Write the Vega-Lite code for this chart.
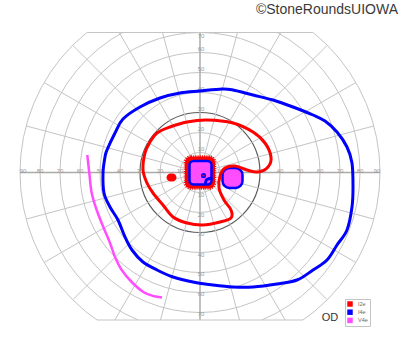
{
  "$schema": "https://vega.github.io/schema/vega-lite/v6.json",
  "width": 400,
  "height": 352,
  "padding": 0,
  "autosize": {"type": "none"},
  "background": "white",
  "config": {"view": {"stroke": null}, "axis": {"disable": true}},
  "datasets": {
    "rings": [{"r": 10}, {"r": 20}, {"r": 40}, {"r": 50}, {"r": 60}, {"r": 70}, {"r": 80}, {"r": 90}],
    "ring30": [{"r": 30}],
    "meridians": [
      {"x": 86.93, "y": 23.29, "x2": -86.93, "y2": -23.29},
      {"x": 77.94, "y": 45, "x2": -77.94, "y2": -45},
      {"x": 63.64, "y": 63.64, "x2": -63.64, "y2": -63.64},
      {"x": 45, "y": 77.94, "x2": -45, "y2": -77.94},
      {"x": 23.29, "y": 86.93, "x2": -23.29, "y2": -86.93},
      {"x": -23.29, "y": 86.93, "x2": 23.29, "y2": -86.93},
      {"x": -45, "y": 77.94, "x2": 45, "y2": -77.94},
      {"x": -63.64, "y": 63.64, "x2": 63.64, "y2": -63.64},
      {"x": -77.94, "y": 45, "x2": 77.94, "y2": -45},
      {"x": -86.93, "y": 23.29, "x2": 86.93, "y2": -23.29}
    ],
    "axes": [
      {"x": -90, "y": 0, "x2": 90, "y2": 0},
      {"x": 0, "y": -90, "x2": 0, "y2": 90}
    ],
    "covers": [
      {"x": -110, "x2": 110, "y": 70, "y2": 95},
      {"x": -110, "x2": 110, "y": -73.75, "y2": -95}
    ],
    "cuts": [
      {"x": -56.57, "x2": 56.57, "y": 70},
      {"x": -51.58, "x2": 51.58, "y": -73.75}
    ],
    "labels": [
      {"x": -88.5, "y": 0.8, "t": "90"}, {"x": -80, "y": 0.8, "t": "80"}, {"x": -70, "y": 0.8, "t": "70"},
      {"x": -60, "y": 0.8, "t": "60"}, {"x": -50, "y": 0.8, "t": "50"}, {"x": -40, "y": 0.8, "t": "40"},
      {"x": -30, "y": 0.8, "t": "30"}, {"x": -20, "y": 0.8, "t": "20"}, {"x": -10, "y": 0.8, "t": "10"},
      {"x": 88.5, "y": 0.8, "t": "90"}, {"x": 80, "y": 0.8, "t": "80"}, {"x": 70, "y": 0.8, "t": "70"},
      {"x": 60, "y": 0.8, "t": "60"}, {"x": 50, "y": 0.8, "t": "50"}, {"x": 40, "y": 0.8, "t": "40"},
      {"x": 30, "y": 0.8, "t": "30"}, {"x": 20, "y": 0.8, "t": "20"}, {"x": 10, "y": 0.8, "t": "10"},
      {"x": 0.5, "y": 11.75, "t": "10"}, {"x": 0.5, "y": 21.75, "t": "20"}, {"x": 0.5, "y": 32, "t": "30"},
      {"x": 0.5, "y": 41.75, "t": "40"}, {"x": 0.5, "y": 51.6, "t": "50"}, {"x": 0.5, "y": 61.6, "t": "60"},
      {"x": 0.5, "y": 68.5, "t": "70"},
      {"x": 0.5, "y": -11.25, "t": "10"}, {"x": 0.5, "y": -21.25, "t": "20"}, {"x": 0.5, "y": -30.75, "t": "30"},
      {"x": 0.5, "y": -41.25, "t": "40"}, {"x": 0.5, "y": -50.75, "t": "50"}, {"x": 0.5, "y": -60.75, "t": "60"},
      {"x": 0.5, "y": -70.75, "t": "70"}
    ],
    "iso": [
      {"iso": "I4e", "i": 1, "x": -38.5, "y": 26.75},
      {"iso": "I4e", "i": 2, "x": -30, "y": 32.75},
      {"iso": "I4e", "i": 3, "x": -20, "y": 37.25},
      {"iso": "I4e", "i": 4, "x": -10, "y": 39.75},
      {"iso": "I4e", "i": 5, "x": 0, "y": 40.75},
      {"iso": "I4e", "i": 6, "x": 11, "y": 41.75},
      {"iso": "I4e", "i": 7, "x": 16.5, "y": 41.25},
      {"iso": "I4e", "i": 8, "x": 26.5, "y": 38.75},
      {"iso": "I4e", "i": 9, "x": 36.5, "y": 36.25},
      {"iso": "I4e", "i": 10, "x": 46.5, "y": 32.75},
      {"iso": "I4e", "i": 11, "x": 56.5, "y": 28.75},
      {"iso": "I4e", "i": 12, "x": 62.5, "y": 25.75},
      {"iso": "I4e", "i": 13, "x": 68.5, "y": 20.25},
      {"iso": "I4e", "i": 14, "x": 73.5, "y": 12.75},
      {"iso": "I4e", "i": 15, "x": 76, "y": 4.75},
      {"iso": "I4e", "i": 16, "x": 76.5, "y": -7.25},
      {"iso": "I4e", "i": 17, "x": 76, "y": -17.25},
      {"iso": "I4e", "i": 18, "x": 73.5, "y": -28.75},
      {"iso": "I4e", "i": 19, "x": 68.5, "y": -36.25},
      {"iso": "I4e", "i": 20, "x": 63.5, "y": -43.75},
      {"iso": "I4e", "i": 21, "x": 56.5, "y": -48.75},
      {"iso": "I4e", "i": 22, "x": 48.5, "y": -53.75},
      {"iso": "I4e", "i": 23, "x": 38.5, "y": -55.75},
      {"iso": "I4e", "i": 24, "x": 26.5, "y": -57.25},
      {"iso": "I4e", "i": 25, "x": 16.5, "y": -57.25},
      {"iso": "I4e", "i": 26, "x": 6.5, "y": -56.25},
      {"iso": "I4e", "i": 27, "x": -3.5, "y": -54.75},
      {"iso": "I4e", "i": 28, "x": -13.5, "y": -52.25},
      {"iso": "I4e", "i": 29, "x": -21.5, "y": -48.75},
      {"iso": "I4e", "i": 30, "x": -28.5, "y": -44.75},
      {"iso": "I4e", "i": 31, "x": -34, "y": -38.75},
      {"iso": "I4e", "i": 32, "x": -37.5, "y": -32.25},
      {"iso": "I4e", "i": 33, "x": -41, "y": -23.75},
      {"iso": "I4e", "i": 34, "x": -45, "y": -17.25},
      {"iso": "I4e", "i": 35, "x": -48, "y": -10.25},
      {"iso": "I4e", "i": 36, "x": -48.5, "y": -0.25},
      {"iso": "I4e", "i": 37, "x": -47.5, "y": 7.75},
      {"iso": "I4e", "i": 38, "x": -46.5, "y": 11.25},
      {"iso": "I4e", "i": 39, "x": -42.5, "y": 19.75},
      {"iso": "I2e", "i": 1, "x": -27.5, "y": 9.75},
      {"iso": "I2e", "i": 2, "x": -25, "y": 15.25},
      {"iso": "I2e", "i": 3, "x": -21.5, "y": 19.75},
      {"iso": "I2e", "i": 4, "x": -15, "y": 22.75},
      {"iso": "I2e", "i": 5, "x": -6.5, "y": 25.25},
      {"iso": "I2e", "i": 6, "x": 3.5, "y": 26.25},
      {"iso": "I2e", "i": 7, "x": 16.5, "y": 24.75},
      {"iso": "I2e", "i": 8, "x": 26.5, "y": 20.25},
      {"iso": "I2e", "i": 9, "x": 32.5, "y": 14.75},
      {"iso": "I2e", "i": 10, "x": 35.5, "y": 7.75},
      {"iso": "I2e", "i": 11, "x": 34, "y": 2.75},
      {"iso": "I2e", "i": 12, "x": 29, "y": 0.25},
      {"iso": "I2e", "i": 13, "x": 23.5, "y": 1.25},
      {"iso": "I2e", "i": 14, "x": 17.5, "y": 3.25},
      {"iso": "I2e", "i": 15, "x": 12.5, "y": 2.25},
      {"iso": "I2e", "i": 16, "x": 10, "y": -1.75},
      {"iso": "I2e", "i": 17, "x": 9.5, "y": -7.75},
      {"iso": "I2e", "i": 18, "x": 12, "y": -13.75},
      {"iso": "I2e", "i": 19, "x": 15.5, "y": -18.75},
      {"iso": "I2e", "i": 20, "x": 15.5, "y": -22.75},
      {"iso": "I2e", "i": 21, "x": 10, "y": -24.75},
      {"iso": "I2e", "i": 22, "x": 1.5, "y": -26.25},
      {"iso": "I2e", "i": 23, "x": -6.5, "y": -25.25},
      {"iso": "I2e", "i": 24, "x": -13.5, "y": -22.25},
      {"iso": "I2e", "i": 25, "x": -18.5, "y": -16.25},
      {"iso": "I2e", "i": 26, "x": -23.5, "y": -10.25},
      {"iso": "I2e", "i": 27, "x": -26.5, "y": -5.25},
      {"iso": "I2e", "i": 28, "x": -28.5, "y": 1.25},
      {"iso": "V4e", "i": 1, "x": -56.35, "y": 8.75},
      {"iso": "V4e", "i": 2, "x": -55.35, "y": -0.25},
      {"iso": "V4e", "i": 3, "x": -54.15, "y": -10.25},
      {"iso": "V4e", "i": 4, "x": -51.65, "y": -18.75},
      {"iso": "V4e", "i": 5, "x": -48.35, "y": -27.25},
      {"iso": "V4e", "i": 6, "x": -45, "y": -35.25},
      {"iso": "V4e", "i": 7, "x": -42.5, "y": -42.25},
      {"iso": "V4e", "i": 8, "x": -39.15, "y": -48.75},
      {"iso": "V4e", "i": 9, "x": -34.15, "y": -54.75},
      {"iso": "V4e", "i": 10, "x": -28.35, "y": -59.75},
      {"iso": "V4e", "i": 11, "x": -23.35, "y": -61.75},
      {"iso": "V4e", "i": 12, "x": -19, "y": -62.5}
    ]
  },
  "layer": [
    {
      "data": {"name": "rings"},
      "mark": {"type": "arc", "theta": 0, "theta2": 6.2832, "filled": false, "stroke": "#c4c4c4", "strokeWidth": 1},
      "encoding": {
        "x": {"datum": 0, "type": "quantitative", "scale": {"domain": [-100, 100], "nice": false, "zero": false}},
        "y": {"datum": 0, "type": "quantitative", "scale": {"domain": [-89.75, 86.25], "nice": false, "zero": false}},
        "radius": {"field": "r", "type": "quantitative", "stack": null, "scale": {"type": "linear", "domain": [0, 100], "range": [0, 200], "zero": true, "nice": false}}
      }
    },
    {
      "data": {"name": "ring30"},
      "mark": {"type": "arc", "theta": 0, "theta2": 6.2832, "filled": false, "stroke": "#5a5a5a", "strokeWidth": 1.2},
      "encoding": {
        "x": {"datum": 0, "type": "quantitative"},
        "y": {"datum": 0, "type": "quantitative"},
        "radius": {"field": "r", "type": "quantitative", "stack": null}
      }
    },
    {
      "data": {"name": "meridians"},
      "mark": {"type": "rule", "stroke": "#c4c4c4", "strokeWidth": 1, "clip": true},
      "encoding": {
        "x": {"field": "x", "type": "quantitative"},
        "y": {"field": "y", "type": "quantitative"},
        "x2": {"field": "x2"},
        "y2": {"field": "y2"}
      }
    },
    {
      "data": {"name": "axes"},
      "mark": {"type": "rule", "stroke": "#ababab", "strokeWidth": 1.5, "clip": true},
      "encoding": {
        "x": {"field": "x", "type": "quantitative"},
        "y": {"field": "y", "type": "quantitative"},
        "x2": {"field": "x2"},
        "y2": {"field": "y2"}
      }
    },
    {
      "data": {"name": "covers"},
      "mark": {"type": "rect", "fill": "white", "clip": true},
      "encoding": {
        "x": {"field": "x", "type": "quantitative"},
        "x2": {"field": "x2"},
        "y": {"field": "y", "type": "quantitative"},
        "y2": {"field": "y2"}
      }
    },
    {
      "data": {"name": "cuts"},
      "mark": {"type": "rule", "stroke": "#c4c4c4", "strokeWidth": 1},
      "encoding": {
        "x": {"field": "x", "type": "quantitative"},
        "x2": {"field": "x2"},
        "y": {"field": "y", "type": "quantitative"}
      }
    },
    {
      "data": {"name": "labels"},
      "mark": {"type": "text", "fontSize": 6, "font": "Liberation Sans", "color": "#9a9a9a", "align": "center", "baseline": "middle"},
      "encoding": {
        "x": {"field": "x", "type": "quantitative"},
        "y": {"field": "y", "type": "quantitative"},
        "text": {"field": "t"}
      }
    },
    {
      "data": {"values": [{"x": -16.75, "x2": -11.75, "y": -0.5, "y2": -4.5}]},
      "mark": {"type": "rect", "fill": "#ff0000", "cornerRadius": 4},
      "encoding": {
        "x": {"field": "x", "type": "quantitative"},
        "x2": {"field": "x2"},
        "y": {"field": "y", "type": "quantitative"},
        "y2": {"field": "y2"}
      }
    },
    {
      "data": {"values": [{"x": -7.5, "x2": 7.5, "y": 8, "y2": -8}]},
      "mark": {"type": "rect", "fill": "#ff0000", "stroke": "#ff0000", "strokeWidth": 2.5, "strokeDash": [1, 1.2], "cornerRadius": 6},
      "encoding": {
        "x": {"field": "x", "type": "quantitative"},
        "x2": {"field": "x2"},
        "y": {"field": "y", "type": "quantitative"},
        "y2": {"field": "y2"}
      }
    },
    {
      "data": {"values": [{"x": -5.25, "x2": 5.75, "y": 5.75, "y2": -6}]},
      "mark": {"type": "rect", "fill": "#ff4dff", "stroke": "#0000ff", "strokeWidth": 2.5, "cornerRadius": 4},
      "encoding": {
        "x": {"field": "x", "type": "quantitative"},
        "x2": {"field": "x2"},
        "y": {"field": "y", "type": "quantitative"},
        "y2": {"field": "y2"}
      }
    },
    {
      "data": {"values": [{"i": 1, "x": 6, "y": -2.75}, {"i": 2, "x": 3.2, "y": -3.6}, {"i": 3, "x": 2.6, "y": -6.2}]},
      "mark": {"type": "line", "stroke": "#0000ff", "strokeWidth": 3, "interpolate": "monotone"},
      "encoding": {
        "x": {"field": "x", "type": "quantitative"},
        "y": {"field": "y", "type": "quantitative"},
        "order": {"field": "i", "type": "quantitative"}
      }
    },
    {
      "data": {"values": [{"x": 1.75, "y": -1.5}]},
      "mark": {"type": "point", "shape": "circle", "filled": true, "fill": "#ff0000", "stroke": "#0000ff", "strokeWidth": 1.5, "size": 14, "opacity": 1},
      "encoding": {
        "x": {"field": "x", "type": "quantitative"},
        "y": {"field": "y", "type": "quantitative"}
      }
    },
    {
      "data": {"values": [{"x": 11.25, "x2": 21.25, "y": 2.25, "y2": -7.75}]},
      "mark": {"type": "rect", "fill": "#ff4dff", "stroke": "#0000ff", "strokeWidth": 2.5, "cornerRadius": 7},
      "encoding": {
        "x": {"field": "x", "type": "quantitative"},
        "x2": {"field": "x2"},
        "y": {"field": "y", "type": "quantitative"},
        "y2": {"field": "y2"}
      }
    },
    {
      "data": {"name": "iso"},
      "transform": [{"filter": "datum.iso !== 'V4e'"}],
      "mark": {"type": "line", "strokeWidth": 3, "interpolate": "cardinal-closed"},
      "encoding": {
        "x": {"field": "x", "type": "quantitative"},
        "y": {"field": "y", "type": "quantitative"},
        "order": {"field": "i", "type": "quantitative"},
        "color": {
          "field": "iso",
          "type": "nominal",
          "scale": {"domain": ["I2e", "I4e", "V4e"], "range": ["#ff0000", "#0000ff", "#ff4dff"]},
          "legend": {
            "title": null,
            "orient": "none",
            "legendX": 345,
            "legendY": 299,
            "symbolType": "square",
            "symbolSize": 30,
            "symbolStrokeWidth": 0,
            "labelFontSize": 5.5,
            "labelFont": "Liberation Sans",
            "labelColor": "#666",
            "labelOffset": 5,
            "rowPadding": 1.2,
            "padding": 2,
            "strokeColor": "#c4c4c4",
            "fillColor": "white",
            "encode": {"symbols": {"update": {"fill": {"scale": "color", "field": "value"}, "opacity": {"value": 1}}}}
          }
        }
      }
    },
    {
      "data": {"name": "iso"},
      "transform": [{"filter": "datum.iso === 'V4e'"}],
      "mark": {"type": "line", "strokeWidth": 2.5, "interpolate": "cardinal"},
      "encoding": {
        "x": {"field": "x", "type": "quantitative"},
        "y": {"field": "y", "type": "quantitative"},
        "order": {"field": "i", "type": "quantitative"},
        "color": {"field": "iso", "type": "nominal"}
      }
    },
    {
      "data": {"values": [{"x": 60.85, "y": -74.1, "t": "OD"}]},
      "mark": {"type": "text", "fontSize": 11, "font": "Liberation Sans", "color": "#333", "align": "left", "baseline": "alphabetic"},
      "encoding": {
        "x": {"field": "x", "type": "quantitative"},
        "y": {"field": "y", "type": "quantitative"},
        "text": {"field": "t"}
      }
    },
    {
      "data": {"values": [{"x": 99, "y": 79.25, "t": "©StoneRoundsUIOWA"}]},
      "mark": {"type": "text", "fontSize": 14, "font": "Liberation Sans", "color": "#3a3a3a", "align": "right", "baseline": "alphabetic"},
      "encoding": {
        "x": {"field": "x", "type": "quantitative"},
        "y": {"field": "y", "type": "quantitative"},
        "text": {"field": "t"}
      }
    }
  ]
}
